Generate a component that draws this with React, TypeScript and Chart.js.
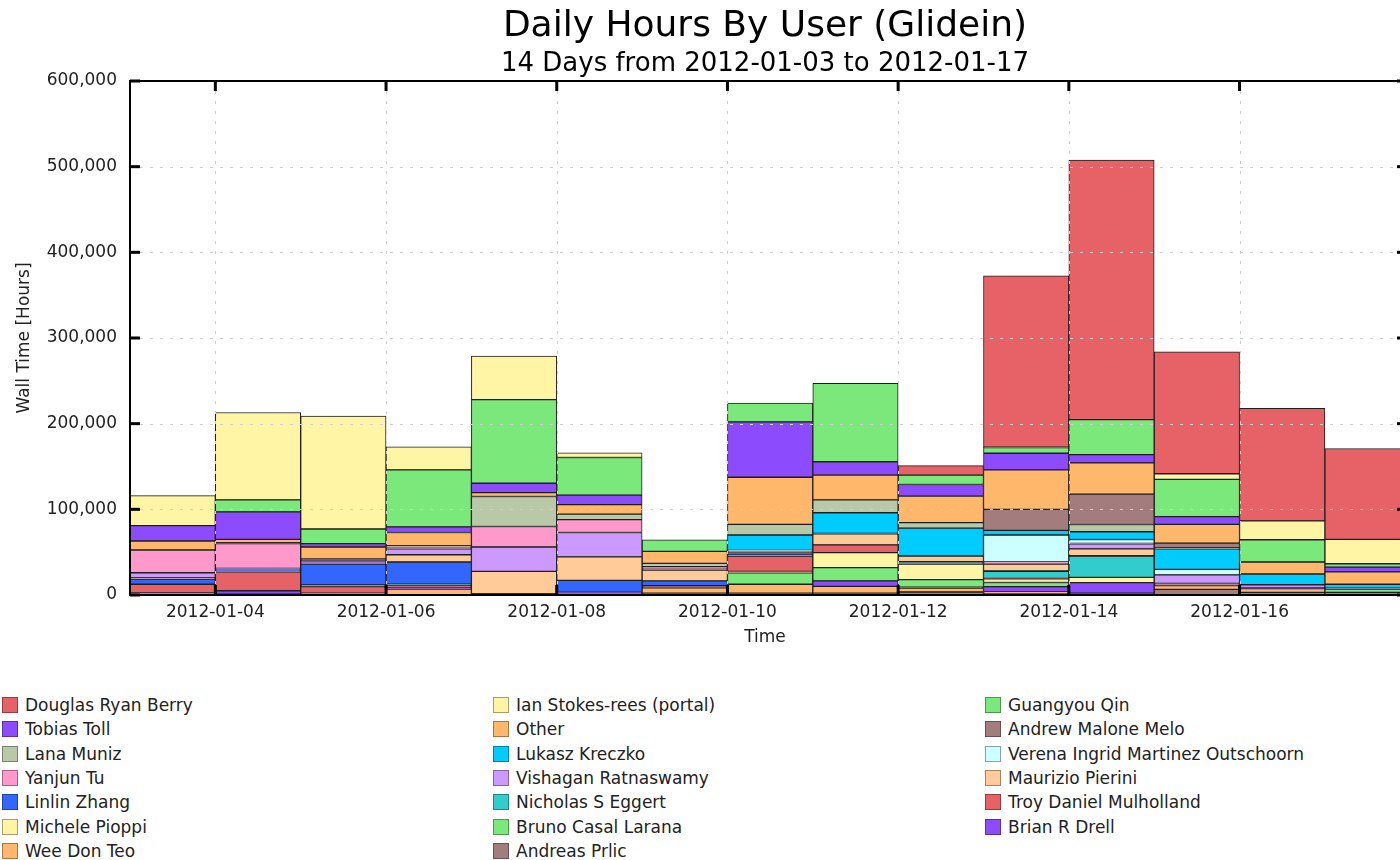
import React, { useEffect, useRef } from "react";
import { Chart, registerables } from "chart.js";

Chart.register(...registerables);

const FONT = "'DejaVu Sans', 'Liberation Sans', sans-serif";

// Days (each bar spans one day starting at its date)
const days = [
  "2012-01-03", "2012-01-04", "2012-01-05", "2012-01-06", "2012-01-07",
  "2012-01-08", "2012-01-09", "2012-01-10", "2012-01-11", "2012-01-12",
  "2012-01-13", "2012-01-14", "2012-01-15", "2012-01-16", "2012-01-17",
];
// indices into days that get a labelled tick
const labelledDays = [1, 3, 5, 7, 9, 11, 13];
const yTickStep = 100000;
const yMax = 600000;

const titleText = "Daily Hours By User (Glidein)";
const subtitleText = "14 Days from 2012-01-03 to 2012-01-17";

// Series values (hours), legend/rank order (top of stack first)
const douglasRyanBerry = [0, 0, 0, 0, 0, 0, 0, 0, 0, 11000, 200000, 303000, 142500, 131500, 106000];
const ianStokesRees = [35000, 102000, 132000, 27000, 51000, 5500, 0, 0, 0, 0, 500, 0, 6500, 22000, 28500];
const guangyouQin = [0, 14000, 17000, 66500, 97500, 44000, 13500, 22000, 91500, 11000, 6500, 41000, 43500, 26000, 4000];
const tobiasToll = [18000, 32000, 4000, 6500, 11000, 11000, 0, 64500, 15500, 13500, 19500, 9500, 9000, 0, 5500];
const other = [10500, 4000, 14000, 15500, 4500, 11000, 14000, 55000, 29000, 31000, 46000, 36500, 22000, 14000, 14500];
const andrewMaloneMelo = [0, 500, 300, 500, 0, 0, 0, 0, 0, 0, 24500, 35500, 5500, 0, 0];
const lanaMuniz = [0, 500, 0, 1000, 35000, 6500, 4000, 12500, 15000, 6500, 0, 8500, 1000, 0, 0];
const lukaszKreczko = [0, 0, 0, 500, 0, 0, 2000, 18000, 24000, 32500, 5500, 9000, 24000, 12500, 4500];
const verenaOutschoorn = [0, 0, 0, 0, 0, 0, 0, 500, 0, 0, 31500, 4500, 6500, 0, 0];
const yanjunTu = [26500, 29000, 1700, 1500, 24000, 15000, 1000, 500, 0, 0, 1500, 500, 0, 0, 0];
const vishaganRatnaswamy = [6000, 1000, 3000, 7000, 28500, 28500, 1000, 500, 500, 0, 1000, 6000, 10000, 3500, 0];
const maurizioPierini = [1500, 500, 1000, 8500, 26000, 27500, 12500, 1000, 13000, 6500, 8000, 8000, 1500, 500, 500];
const linlinZhang = [6000, 1500, 24300, 26000, 500, 13000, 5500, 3000, 0, 0, 500, 500, 0, 0, 500];
const nicholasEggert = [0, 1000, 2000, 1500, 0, 500, 0, 1000, 0, 1500, 8000, 24800, 0, 0, 0];
const troyMulholland = [10000, 22000, 7700, 2500, 0, 500, 1500, 18000, 9000, 1500, 500, 0, 0, 0, 0];
const michelePioppi = [0, 0, 0, 0, 0, 0, 0, 1500, 17500, 18000, 4400, 6000, 0, 0, 0];
const brunoCasalLarana = [0, 0, 0, 500, 0, 0, 0, 13500, 15500, 9000, 4800, 0, 0, 0, 4000];
const brianDrell = [500, 4000, 0, 1000, 0, 500, 1000, 0, 6500, 1000, 6300, 12500, 1000, 500, 0];
const weeDonTeo = [1000, 0, 1000, 7000, 500, 1000, 6500, 10500, 8000, 4500, 1500, 0, 4500, 4500, 0];
const andreasPrlic = [1000, 1000, 1000, 0, 500, 1500, 2000, 2000, 2000, 3500, 2000, 2000, 6500, 3000, 3000];

const seriesNames = [
  "Douglas Ryan Berry", "Ian Stokes-rees (portal)", "Guangyou Qin",
  "Tobias Toll", "Other", "Andrew Malone Melo",
  "Lana Muniz", "Lukasz Kreczko", "Verena Ingrid Martinez Outschoorn",
  "Yanjun Tu", "Vishagan Ratnaswamy", "Maurizio Pierini",
  "Linlin Zhang", "Nicholas S Eggert", "Troy Daniel Mulholland",
  "Michele Pioppi", "Bruno Casal Larana", "Brian R Drell",
  "Wee Don Teo", "Andreas Prlic",
];

const seriesValues = [
  douglasRyanBerry, ianStokesRees, guangyouQin,
  tobiasToll, other, andrewMaloneMelo,
  lanaMuniz, lukaszKreczko, verenaOutschoorn,
  yanjunTu, vishaganRatnaswamy, maurizioPierini,
  linlinZhang, nicholasEggert, troyMulholland,
  michelePioppi, brunoCasalLarana, brianDrell,
  weeDonTeo, andreasPrlic,
];

const seriesColors = [
  "#e66266", "#fff5a5", "#7be87b",
  "#8c4bfd", "#ffb86b", "#a37c7e",
  "#b9c9a8", "#00ccff", "#ccffff",
  "#ff99cc", "#cc99ff", "#ffcc99",
  "#3366ff", "#33cccc", "#e66266",
  "#fff5a5", "#7be87b", "#8c4bfd",
  "#ffb86b", "#a37c7e",
];

const framePlugin = {
  id: "frameAndGrid",
  afterDatasetsDraw(chart: any) {
    const { ctx, chartArea: a, scales } = chart;
    const xs = scales.x;
    const ys = scales.y;
    ctx.save();
    // dotted grid drawn over the bars
    ctx.strokeStyle = "#cfcfcf";
    ctx.lineWidth = 1;
    ctx.setLineDash([3, 7]);
    ys.ticks.forEach((t: any) => {
      if (t.value <= 0 || t.value >= yMax) return;
      const py = Math.round(ys.getPixelForValue(t.value)) + 0.5;
      ctx.beginPath();
      ctx.moveTo(a.left, py);
      ctx.lineTo(a.right, py);
      ctx.stroke();
    });
    xs.ticks.forEach((t: any) => {
      const px = Math.round(xs.getPixelForValue(t.value)) + 0.5;
      ctx.beginPath();
      ctx.moveTo(px, a.top);
      ctx.lineTo(px, a.bottom);
      ctx.stroke();
    });
    ctx.setLineDash([]);
    // frame
    ctx.strokeStyle = "#000";
    ctx.lineWidth = 2;
    ctx.beginPath();
    ctx.moveTo(a.right, a.top);
    ctx.lineTo(a.left, a.top);
    ctx.lineTo(a.left, a.bottom);
    ctx.lineTo(a.right, a.bottom);
    ctx.stroke();
    // inward tick marks
    ctx.fillStyle = "#000";
    ys.ticks.forEach((t: any) => {
      const py = ys.getPixelForValue(t.value);
      ctx.fillRect(a.left, py - 1.5, 10, 3);
      ctx.fillRect(a.right - 3, py - 1.5, 3, 3);
    });
    xs.ticks.forEach((t: any) => {
      const px = xs.getPixelForValue(t.value);
      ctx.fillRect(px - 1.5, a.top, 3, 10);
      ctx.fillRect(px - 1.5, a.bottom - 10, 3, 10);
    });
    ctx.restore();
  },
};

export default function App() {
  const canvasRef = useRef<HTMLCanvasElement | null>(null);

  useEffect(() => {
    if (!canvasRef.current) return;
    // stack bottom-first: reverse the rank order
    const datasets = seriesNames
      .map((name, i) => ({
        label: name,
        data: seriesValues[i].map((v, d) => ({ x: d + 0.5, y: v })),
        backgroundColor: seriesColors[i],
        borderColor: "#1e1e1e",
        borderWidth: 1,
        borderSkipped: false,
        categoryPercentage: 1,
        barPercentage: 1,
      }))
      .reverse();

    const tickFont = { family: FONT, size: 17 };
    const chart = new Chart(canvasRef.current, {
      type: "bar",
      data: { datasets },
      plugins: [framePlugin],
      options: {
        responsive: false,
        animation: false,
        layout: { padding: { left: 0, right: 0, top: 0, bottom: 13 } },
        plugins: {
          legend: { display: false },
          tooltip: { enabled: false },
          title: {
            display: true,
            fullSize: false,
            text: titleText,
            color: "#000",
            font: { family: FONT, size: 36, weight: "normal" },
            padding: { top: 5, bottom: 0 },
          },
          subtitle: {
            display: true,
            fullSize: false,
            text: subtitleText,
            color: "#000",
            font: { family: FONT, size: 26, weight: "normal" },
            padding: { top: 0, bottom: 1.6 },
          },
        },
        scales: {
          x: {
            type: "linear",
            stacked: true,
            min: 0,
            max: 14.88,
            offset: false,
            grid: { display: false, drawTicks: false },
            border: { display: false },
            afterBuildTicks: (s: any) => {
              s.ticks = labelledDays.map((v) => ({ value: v }));
            },
            afterFit: (s: any) => {
              s.height = 52;
            },
            ticks: {
              autoSkip: false,
              maxRotation: 0,
              padding: 7,
              color: "#222",
              font: tickFont,
              callback: (v: any) => days[v] ?? "",
            },
            title: {
              display: true,
              text: "Time",
              color: "#222",
              font: tickFont,
              padding: { top: 0, bottom: -1 },
            },
          },
          y: {
            stacked: true,
            min: 0,
            max: yMax,
            grid: { display: false, drawTicks: false },
            border: { display: false },
            afterFit: (s: any) => {
              s.width = 130;
            },
            ticks: {
              stepSize: yTickStep,
              padding: 13,
              color: "#222",
              font: tickFont,
              callback: (v: any) => Number(v).toLocaleString("en-US"),
            },
            title: {
              display: true,
              text: "Wall Time [Hours]",
              color: "#222",
              font: tickFont,
              padding: { top: 14, bottom: 0 },
            },
          },
        },
      },
    } as any);
    return () => chart.destroy();
  }, []);

  const colLeft = [2, 493, 985];
  return (
    <div
      style={{
        position: "absolute",
        left: 0,
        top: 0,
        width: 1400,
        height: 860,
        background: "#fff",
        overflow: "hidden",
        fontFamily: FONT,
      }}
    >
      <canvas ref={canvasRef} width={1400} height={660} style={{ display: "block" }} />
      {seriesNames.map((name, i) => {
        const col = i % 3;
        const row = Math.floor(i / 3);
        const top = 705 + row * 24.33 - 8;
        return (
          <div
            key={name}
            style={{
              position: "absolute",
              left: colLeft[col],
              top,
              height: 16,
              display: "flex",
              alignItems: "center",
              whiteSpace: "nowrap",
            }}
          >
            <span
              style={{
                display: "inline-block",
                width: 14,
                height: 14,
                background: seriesColors[i],
                border: "1px solid rgba(0,0,0,0.35)",
                marginRight: 7,
              }}
            />
            <span style={{ fontSize: 17, color: "#222", lineHeight: "16px" }}>{name}</span>
          </div>
        );
      })}
    </div>
  );
}
